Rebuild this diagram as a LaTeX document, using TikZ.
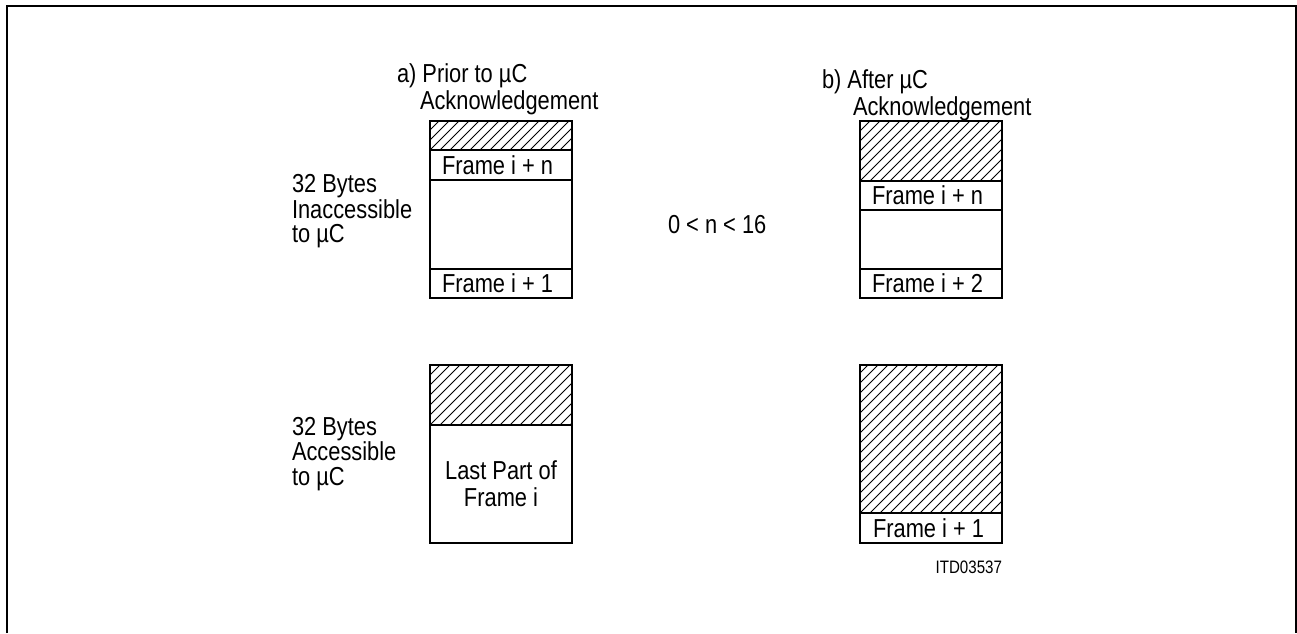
\documentclass[tikz,border=0pt]{standalone}
\usepackage{fontspec}
\setmainfont{Liberation Sans}[FakeStretch=0.84]
\newcommand\hatchrect[4]{%
  \begin{scope}
    \clip (#1,#2) rectangle (#3,#4);
    \foreach \k in {-17,...,17} {
      \draw[hatchline] ({#1+\k*10},#4) -- ++(200,-200);
    }
  \end{scope}}
\begin{document}
\begin{tikzpicture}[x=0.5pt,y=-0.5pt,
  boxline/.style={line width=1.4pt},
  sepline/.style={line width=1.2pt},
  hatchline/.style={line width=0.4pt},
  frameline/.style={line width=1pt},
  lbl/.style={font=\fontsize{13}{15}\selectfont, inner sep=0pt, outer sep=0pt},
  small/.style={font=\fontsize{9}{10}\selectfont, inner sep=0pt, outer sep=0pt}]
\useasboundingbox (0,0) rectangle (1297,633);
% outer frame (open at bottom)
\draw[frameline] (7,633) -- (7,6) -- (1296,6) -- (1296,633);

% ---- left top box ----
\hatchrect{430}{121}{572}{150}
\draw[sepline] (430,150) -- (572,150);
\draw[sepline] (430,180) -- (572,180);
\draw[sepline] (430,269) -- (572,269);
\draw[boxline] (430,121) rectangle (572,298);
\node[lbl, anchor=base west] (ltn) at (442,174) {Frame i + n};
\node[lbl, anchor=base west] (lt1) at (442,292) {Frame i + 1};

% ---- left bottom box ----
\hatchrect{430}{365}{572}{425}
\draw[sepline] (430,425) -- (572,425);
\draw[boxline] (430,365) rectangle (572,543);
\node[lbl, anchor=base] (lp1) at (501,479) {Last Part of};
\node[lbl, anchor=base] (lp2) at (501,506) {Frame i};

% ---- right top box ----
\hatchrect{860}{121}{1002}{181}
\draw[sepline] (860,181) -- (1002,181);
\draw[sepline] (860,210) -- (1002,210);
\draw[sepline] (860,269) -- (1002,269);
\draw[boxline] (860,121) rectangle (1002,298);
\node[lbl, anchor=base west] (rtn) at (872,204) {Frame i + n};
\node[lbl, anchor=base west] (rt2) at (872,292) {Frame i + 2};

% ---- right bottom box ----
\hatchrect{860}{365}{1002}{513}
\draw[sepline] (860,513) -- (1002,513);
\draw[boxline] (860,365) rectangle (1002,543);
\node[lbl, anchor=base west] (rb1) at (873,537) {Frame i + 1};

% ---- headings ----
\node[lbl, anchor=base west] (ha1) at (397,82) {a) Prior to µC};
\node[lbl, anchor=base west] (ha2) at (420,109) {Acknowledgement};
\node[lbl, anchor=base west] (hb1) at (822,88) {b) After µC};
\node[lbl, anchor=base west] (hb2) at (853,115) {Acknowledgement};

% ---- side labels ----
\node[lbl, anchor=base west] (s1a) at (292,192) {32 Bytes};
\node[lbl, anchor=base west] (s1b) at (292,218) {Inaccessible};
\node[lbl, anchor=base west] (s1c) at (292,242) {to µC};
\node[lbl, anchor=base west] (s2a) at (292,435) {32 Bytes};
\node[lbl, anchor=base west] (s2b) at (292,460) {Accessible};
\node[lbl, anchor=base west] (s2c) at (292,485) {to µC};

\node[lbl, anchor=base west] (rng) at (668,233) {0 < n < 16};
\node[small, anchor=base east] (itd) at (1002,573) {ITD03537};
\end{tikzpicture}
\end{document}
